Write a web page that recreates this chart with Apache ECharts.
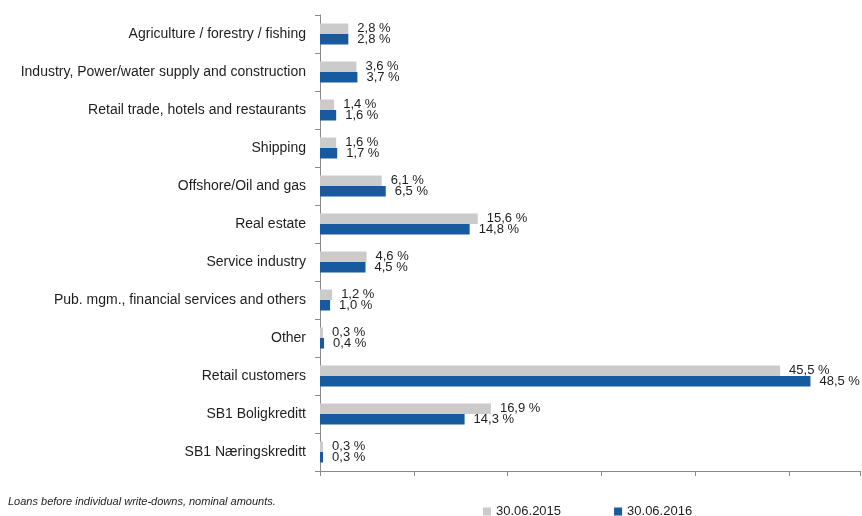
<!DOCTYPE html>
<html>
<head>
<meta charset="utf-8">
<script src="https://cdn.jsdelivr.net/npm/echarts@6/dist/echarts.min.js"></script>
<style>
html,body{margin:0;padding:0;background:#fff;}
#chart{width:862px;height:516px;}
</style>
</head>
<body>
<div id="chart"></div>
<script>
const categories = [
  'Agriculture / forestry / fishing',
  'Industry, Power/water supply and construction',
  'Retail trade, hotels and restaurants',
  'Shipping',
  'Offshore/Oil and gas',
  'Real estate',
  'Service industry',
  'Pub. mgm., financial services and others',
  'Other',
  'Retail customers',
  'SB1 Boligkreditt',
  'SB1 Næringskreditt'
];
const series2015 = [2.8, 3.6, 1.4, 1.6, 6.1, 15.6, 4.6, 1.2, 0.3, 45.5, 16.9, 0.3];
const series2016 = [2.8, 3.7, 1.6, 1.7, 6.5, 14.8, 4.5, 1.0, 0.4, 48.5, 14.3, 0.3];
const seriesNames = ['30.06.2015', '30.06.2016'];
const footnote = 'Loans before individual write-downs, nominal amounts.';

const FONT = '"Liberation Sans", Arial, sans-serif';
const fmt = p => p.value.toFixed(1).replace('.', ',') + ' %';

const chart = echarts.init(document.getElementById('chart'), null, {renderer: 'canvas'});
chart.setOption({
  animation: false,
  textStyle: {fontFamily: FONT},
  grid: {left: 320, right: 2, top: 15, bottom: 45, containLabel: false},
  xAxis: {
    type: 'value',
    min: 0,
    max: 53.4,
    interval: 9.28,
    axisLine: {show: true, lineStyle: {color: '#8a8a8a', width: 1}},
    axisTick: {show: true, length: 5, lineStyle: {color: '#8a8a8a'}},
    axisLabel: {show: false},
    splitLine: {show: false}
  },
  yAxis: {
    type: 'category',
    data: categories,
    inverse: true,
    axisLine: {show: true, lineStyle: {color: '#8a8a8a', width: 1}},
    axisTick: {show: true, length: 5, lineStyle: {color: '#8a8a8a'}},
    axisLabel: {color: '#1e1e1e', fontSize: 14, fontFamily: FONT, margin: 14}
  },
  legend: {
    data: seriesNames,
    left: 483,
    top: 505,
    padding: 0,
    icon: 'rect',
    itemWidth: 8,
    itemHeight: 8,
    itemGap: 53,
    textStyle: {color: '#1e1e1e', fontSize: 13, fontFamily: FONT}
  },
  graphic: [{
    type: 'text',
    left: 8,
    top: 496,
    style: {text: footnote, font: 'italic 11px ' + FONT, fill: '#1e1e1e'}
  }],
  series: [
    {
      name: seriesNames[0],
      type: 'bar',
      data: series2015,
      barWidth: 10.5,
      barGap: '0%',
      itemStyle: {color: '#cbcbcb'},
      label: {show: true, position: 'right', distance: 9, formatter: fmt, color: '#1e1e1e', fontSize: 13, fontFamily: FONT}
    },
    {
      name: seriesNames[1],
      type: 'bar',
      data: series2016,
      barWidth: 10.5,
      barGap: '0%',
      itemStyle: {color: '#175a9f'},
      label: {show: true, position: 'right', distance: 9, formatter: fmt, color: '#1e1e1e', fontSize: 13, fontFamily: FONT}
    }
  ]
});
</script>
</body>
</html>
